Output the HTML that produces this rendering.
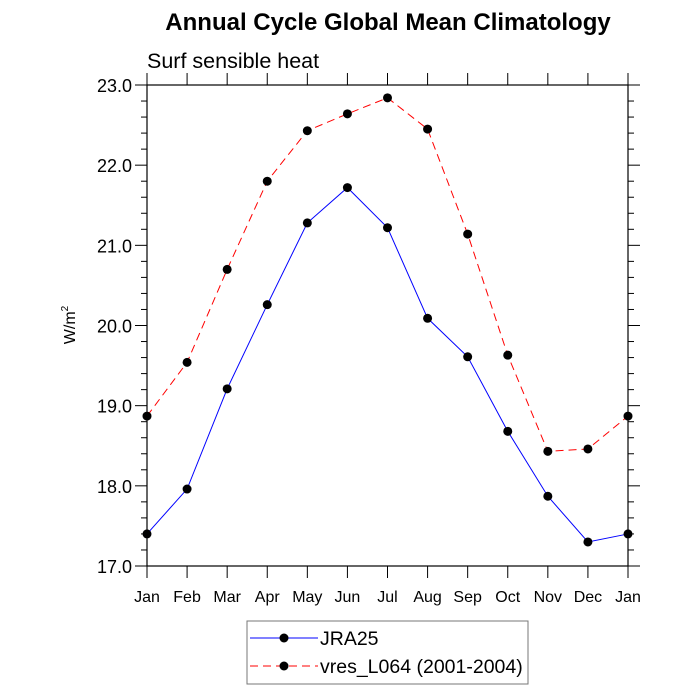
<!DOCTYPE html>
<html><head><meta charset="utf-8"><style>body{margin:0;background:#fff}svg{display:block;font-family:"Liberation Sans",sans-serif}</style></head>
<body>
<svg id="chart" width="700" height="700">
<text x="388" y="30" text-anchor="middle" font-size="24" font-weight="bold">Annual Cycle Global Mean Climatology</text>
<text x="147" y="68" font-size="21.5">Surf sensible heat</text>
<text transform="translate(75,325) rotate(-90)" text-anchor="middle" font-size="16">W/m<tspan font-size="10" dy="-7">2</tspan></text>
<g id="axes"></g>
<g id="series"></g>
<g>
<rect x="247" y="621" width="281" height="63" fill="#fff" stroke="#777" stroke-width="1"/>
<line x1="250" y1="638" x2="318" y2="638" stroke="#00f"/>
<circle cx="284" cy="638" r="4.5" fill="#000"/>
<text x="320" y="645" font-size="19.5">JRA25</text>
<line x1="250" y1="666" x2="318" y2="666" stroke="#f00" stroke-dasharray="8,5"/>
<circle cx="284" cy="666" r="4.5" fill="#000"/>
<text x="320" y="673" font-size="19.5">vres_L064 (2001-2004)</text>
</g>
</svg>
<script>
const months = ["Jan","Feb","Mar","Apr","May","Jun","Jul","Aug","Sep","Oct","Nov","Dec","Jan"];
const jra25 = [17.40,17.96,19.21,20.26,21.28,21.72,21.22,20.09,19.61,18.68,17.87,17.30,17.40];
const vres = [18.87,19.54,20.70,21.80,22.43,22.64,22.84,22.45,21.14,19.63,18.43,18.46,18.87];
const yTicks = [17.0,18.0,19.0,20.0,21.0,22.0,23.0];
const X0=147,X1=628,Y0=566,Y1=85,YMIN=17,YMAX=23;
const ns="http://www.w3.org/2000/svg";
function xs(i){return X0+(X1-X0)*i/(months.length-1);}
function ys(v){return Y0-(v-YMIN)/(YMAX-YMIN)*(Y0-Y1);}
function mk(tag,attrs,parent){const e=document.createElementNS(ns,tag);for(const k in attrs)e.setAttribute(k,attrs[k]);parent.appendChild(e);return e;}
const ax=document.getElementById('axes');
const fr=mk('rect',{x:X0,y:Y1,width:X1-X0,height:Y0-Y1,fill:'none',stroke:'#000','stroke-width':1.2},ax);


months.forEach((m,i)=>{
  const x=xs(i);
  mk('line',{x1:x,y1:Y0,x2:x,y2:Y0+12,stroke:'#000'},ax);
  mk('line',{x1:x,y1:Y1,x2:x,y2:Y1-12,stroke:'#000'},ax);
  const t=mk('text',{x:x,y:Y0+36,'text-anchor':'middle','font-size':16},ax);
  t.textContent=m;
  
  
});
for(let v=YMIN;v<=YMAX+1e-6;v+=0.2){
  const y=ys(v);const major=Math.abs(v-Math.round(v))<1e-6;const L=major?12:6;
  mk('line',{x1:X0,y1:y,x2:X0-L,y2:y,stroke:'#000'},ax);
  mk('line',{x1:X1,y1:y,x2:X1+L,y2:y,stroke:'#000'},ax);
}
yTicks.forEach(v=>{
  const t=mk('text',{x:X0-15,y:ys(v)+7,'text-anchor':'end','font-size':18},ax);
  t.textContent=v.toFixed(1);
  
  
});
const sg=document.getElementById('series');
function draw(arr,color,dash,name){
  const p=mk('polyline',{points:arr.map((v,i)=>xs(i)+','+ys(v)).join(' '),fill:'none',stroke:color,'stroke-width':1,'stroke-dasharray':dash},sg);
  
  
  arr.forEach((v,i)=>{
    const c=mk('circle',{cx:xs(i),cy:ys(v),r:4.5,fill:'#000'},sg);
    
    
  });
}
draw(vres,'#f00','8,5','vres');
draw(jra25,'#00f','none','jra25');
</script>
</body></html>
